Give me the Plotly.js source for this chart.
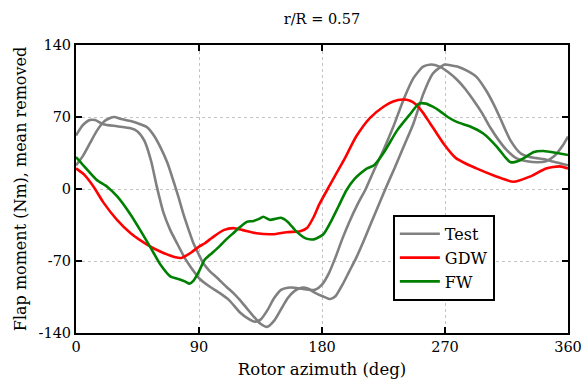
<!DOCTYPE html>
<html>
<head>
<meta charset="utf-8">
<script src="https://cdn.plot.ly/plotly-3.0.1.min.js"></script>
<style>html,body{margin:0;padding:0;background:#fff;}#chart{width:585px;height:385px;}</style>
</head>
<body>
<div id="chart"></div>
<script>
// Test run 1 (leading)
const testAX = [0,5,10,14,20,30,40,45,50,55,59,64,69,74,80,84,91,98,105,112,120,126,131,135,140,145,150,155,160,165,170,175,180,185,190,195,200,206,212,218,225,232,240,247,254,260,266,272,279,285,291,297,303,309,315,322,330,338,344,350,356,360];
const testAY = [52,62,67,67,63,61,59,56,47,27,3,-23,-40,-53,-68,-76,-88,-95,-101,-108,-120,-126,-129,-127,-118,-106,-98,-96,-96,-97,-98,-98,-93,-82,-66,-48,-32,-15,0,18,38,60,88,108,119,121,119,114,106,97,86,74,60,48,38,30,27,26,27,32,42,51];
// Test run 2 (lagging)
const testBX = [0,5,10,15,20,25,28,33,40,47,52,57,62,67,71,75,78.5,82,86,90,93,98,103,110,115,120,125,130,135,140,145,150,155,160,165,170,175,180,186,190,195,200,205,210,215,221,227,233,240,247,254,261,266,270,275,279,286,293,300,305,310,314,318,325,332,337,343,348,354,360];
const testBY = [23,32,44,56,65,69,70,68,66,63,60,52,40,25,9,-8,-24,-38,-53,-64,-72,-80,-86,-95,-101,-108,-116,-124,-131,-134,-128,-117,-106,-99,-96,-97,-101,-104,-107,-104,-93,-80,-67,-52,-36,-17,2,20,42,64,92,112,118,121,120,119,115,109,96,84,70,58,47,35,31,30,29,27,25,23];
// GDW
const gdwX = [0,6,13,20,30,40,52,62,72,77,84,90,94,98,101,108,115,122,132,144,154,164,169,174,178,185,190,196,205,215,225,232,239,244,249,254,259,264,269,278,293,308,320,332,344,354,360];
const gdwY = [20,14,2,-13,-30,-43,-54,-61,-66,-67,-62,-56,-53,-49,-46,-40,-38,-40,-43,-44,-42,-41,-38,-27,-15,2,14,28,51,69,80,85,87,86,82,74,64,54,44,30,20,12,7,12,20,22,20];
// FW
const fwX = [0,6,15,23,30,40,47,55,62,69,76,80,83,86,90,94,98,104,110,115,120,125,130,134,137,142,146,150,155,161,168,174,181,186,192,198,204,208,213,218,225,235,244,251,256,261,266,272,279,288,298,308,314,318,325,335,342,352,360];
const fwY = [31,22,9,2,-7,-25,-40,-58,-74,-85,-88,-90,-92,-89,-80,-69,-64,-57,-49,-43,-37,-32,-31,-29,-27,-30,-29,-28,-32,-41,-48,-49,-44,-33,-17,-1,10,15,20,23,35,57,72,83,83,80,76,70,65,61,54,41,31,26,28,36,37,35,33];

const xTicks = [0,90,180,270,360];
const xTickText = ['0','90','180','270','360'];
const yTicks = [-140,-70,0,70,140];
const yTickText = ['-140','-70','0','70','140'];

const font = 'DejaVu Serif';
const lw = 2.6;
const traces = [
  {x: testAX, y: testAY, name: 'Test', mode: 'lines', line: {color: '#808080', width: lw, shape: 'spline', smoothing: 0.6}, legendgroup: 't'},
  {x: testBX, y: testBY, name: 'Test', mode: 'lines', line: {color: '#808080', width: lw, shape: 'spline', smoothing: 0.6}, legendgroup: 't', showlegend: false},
  {x: gdwX, y: gdwY, name: 'GDW', mode: 'lines', line: {color: '#ff0000', width: lw, shape: 'spline', smoothing: 0.6}},
  {x: fwX, y: fwY, name: 'FW', mode: 'lines', line: {color: '#008000', width: lw, shape: 'spline', smoothing: 0.6}}
];
const axisCommon = {
  showline: true, linecolor: '#000', linewidth: 2, mirror: 'ticks',
  ticks: 'inside', ticklen: 6, tickwidth: 2, tickcolor: '#000',
  showgrid: true, gridcolor: '#c4c4c4', griddash: 'dot', gridwidth: 1,
  zeroline: false, tickfont: {family: font, size: 14.5, color: '#000'}
};
const layout = {
  width: 585, height: 385,
  margin: {l: 76, r: 17, t: 45, b: 52},
  paper_bgcolor: '#fff', plot_bgcolor: '#fff',
  font: {family: font, color: '#000'},
  title: {text: 'r/R = 0.57', font: {family: font, size: 14.5, color: '#000'}, x: 0.5, xref: 'paper', xanchor: 'center', y: 0.952, yanchor: 'middle'},
  xaxis: Object.assign({}, axisCommon, {range: [0, 360], tickvals: xTicks, ticktext: xTickText,
    title: {text: 'Rotor azimuth (deg)', font: {family: font, size: 16.5, color: '#000'}, standoff: 9}}),
  yaxis: Object.assign({}, axisCommon, {range: [-140, 140], tickvals: yTicks, ticktext: yTickText,
    title: {text: 'Flap moment (Nm), mean removed', font: {family: font, size: 16, color: '#000'}, standoff: 8}}),
  legend: {x: 0.644, y: 0.41, xanchor: 'left', yanchor: 'top', bgcolor: '#fff', bordercolor: '#000', borderwidth: 2,
    font: {family: font, size: 16, color: '#000'}, tracegroupgap: 0, itemwidth: 40},
  showlegend: true
};
Plotly.newPlot('chart', traces, layout, {displayModeBar: false, staticPlot: true});
</script>
</body>
</html>
